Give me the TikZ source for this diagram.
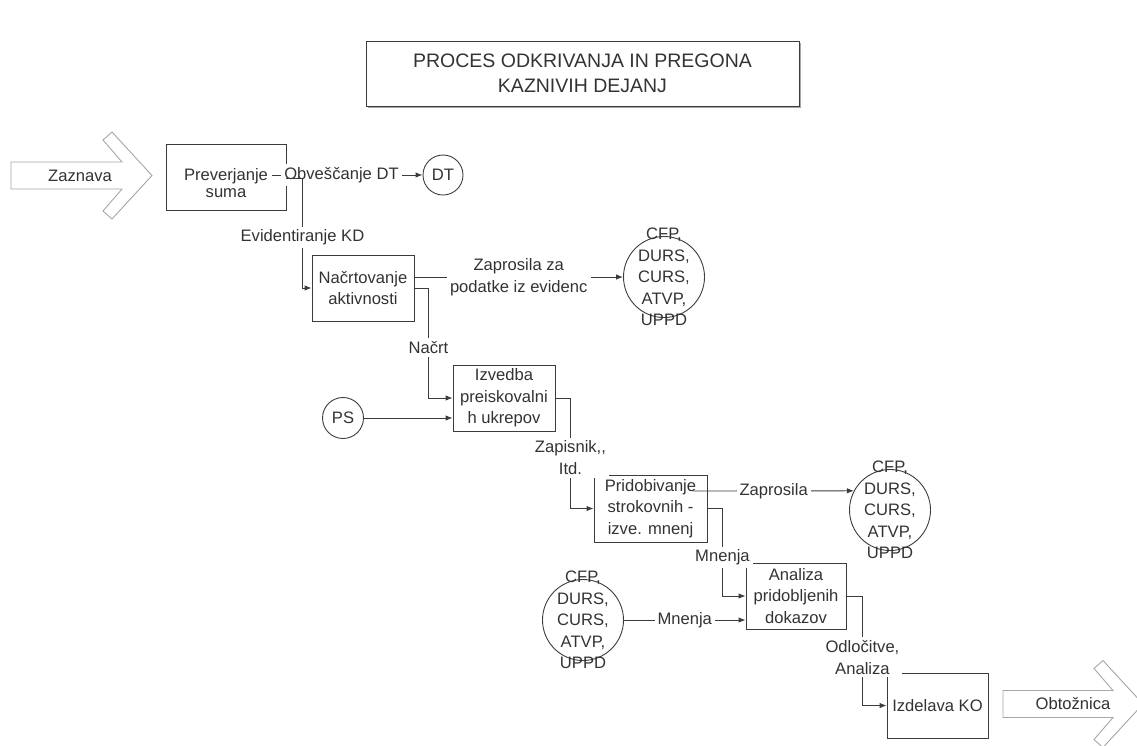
\documentclass[tikz,border=0pt]{standalone}
\usepackage{fontspec}
\setmainfont{Liberation Sans}
\usepackage{xcolor}
\usetikzlibrary{arrows.meta,calc,shadows}
\definecolor{ink}{HTML}{333333}
\definecolor{rim}{HTML}{3C3C3C}
\tikzset{
  proc/.style={draw=rim,line width=0.9pt,fill=white,minimum width=102pt,minimum height=66pt,inner sep=0pt,align=center,text=ink},
  ext/.style={circle,draw=rim,line width=0.9pt,inner sep=0pt,text=ink},
  agencies/.style={ext,minimum size=81pt,label={[align=center,text=ink]center:CFP,\\DURS,\\CURS,\\ATVP,\\UPPD}},
  lbl/.style={fill=white,inner sep=3pt,align=center,text=ink},
  conn/.style={draw=rim,line width=0.9pt,-{Latex[length=7pt,width=5.5pt]}},
  fat/.style={draw=gray!70,line width=0.9pt,fill=white}
}
\begin{document}
\begin{tikzpicture}[x=1pt,y=-1pt,font=\fontsize{16.6}{21.5}\selectfont]
\useasboundingbox (0,0) rectangle (1137,745);
%\draw[help lines,step=50](0,0)grid(1137,745);
\node[draw=rim,fill=white,line width=0.9pt,minimum width=433pt,minimum height=65pt,align=center,text=ink,
  font=\fontsize{19.5}{25}\selectfont,drop shadow={shadow xshift=1.5pt,shadow yshift=-1.5pt,fill=gray!70,opacity=1}]
  (title) at (582.5,73.5) {PROCES ODKRIVANJA IN PREGONA\\KAZNIVIH DEJANJ};
% fat arrows in and out
\draw[fat] (11,162)--(122,162)--(103,140)--(112,132)--(152,175.5)--(112,219)--(103,211)--(122,189)--(11,189)--cycle;
\node[text=ink] (zaz) at (80,176) {Zaznava};
\draw[fat] (1003,690.5)--(1113,690.5)--(1094,668.5)--(1103,660.5)--(1143,704)--(1103,747.5)--(1094,739.5)--(1113,717.5)--(1003,717.5)--cycle;
\node[text=ink] (obt) at (1073,704) {Obtožnica};
% process steps
\node[proc,minimum width=120pt,font=\fontsize{16.6}{17}\selectfont] (pre) at (226,177) {\rule{0pt}{24pt}Preverjanje\\suma};
\node[proc] (nac) at (363,288) {Načrtovanje\\aktivnosti};
\node[proc] (izv) at (504,398) {Izvedba\\preiskovalni\\h ukrepov};
\node[proc,minimum width=113pt,minimum height=67pt] (pri) at (650.5,508.5) {Pridobivanje\\strokovnih -\\izve. mnenj};
\node[proc,minimum width=100pt] (ana) at (796,596) {Analiza\\pridobljenih\\dokazov};
\node[proc,minimum width=101pt,minimum height=65pt] (izd) at (937.5,705.5) {Izdelava KO};
% outside parties
\node[ext,minimum size=40pt] (dt) at (443,175) {DT};
\node[ext,minimum size=41pt] (ps) at (343,418) {PS};
\node[agencies] (cfpA) at (664,277) {};
\node[agencies] (cfpB) at (890,510) {};
\node[agencies] (cfpC) at (583,620) {};
% flows
\draw[conn] ([xshift=-14pt,yshift=2pt]pre.east) -- node[lbl,pos=0.46]{Obveščanje DT} (dt.west);
\draw[conn] ([yshift=-1pt]pre.east) -- ++(16,0) |- node[lbl,pos=0.27]{Evidentiranje KD} (nac.west);
\draw[conn] ([yshift=11pt]nac.east) -- node[lbl]{Zaprosila za\\podatke iz evidenc} ([yshift=11pt]nac.east -| cfpA.west);
\draw[conn] (nac.east) -- ++(14,0) |- node[lbl,pos=0.27]{Načrt} (izv.west);
\draw[conn] (ps.east) -- (ps.east -| izv.west);
\draw[conn] (izv.east) -- ++(15,0) |- node[lbl,pos=0.27]{Zapisnik,{},\\Itd.} (pri.west);
\draw[conn] ([xshift=-14pt,yshift=17.5pt]pri.east) -- node[lbl]{Zaprosila} (cfpB.152);
\draw[conn] (pri.east) -- ++(15,0) |- node[lbl,pos=0.28]{Mnenja} (ana.west);
\draw[conn] (cfpC.east) -- node[lbl]{Mnenja} (cfpC.east -| ana.west);
\draw[conn] (ana.east) -- ++(16,0) |- node[lbl,pos=0.28]{Odločitve,\\Analiza} (izd.west);
\end{tikzpicture}
\end{document}
